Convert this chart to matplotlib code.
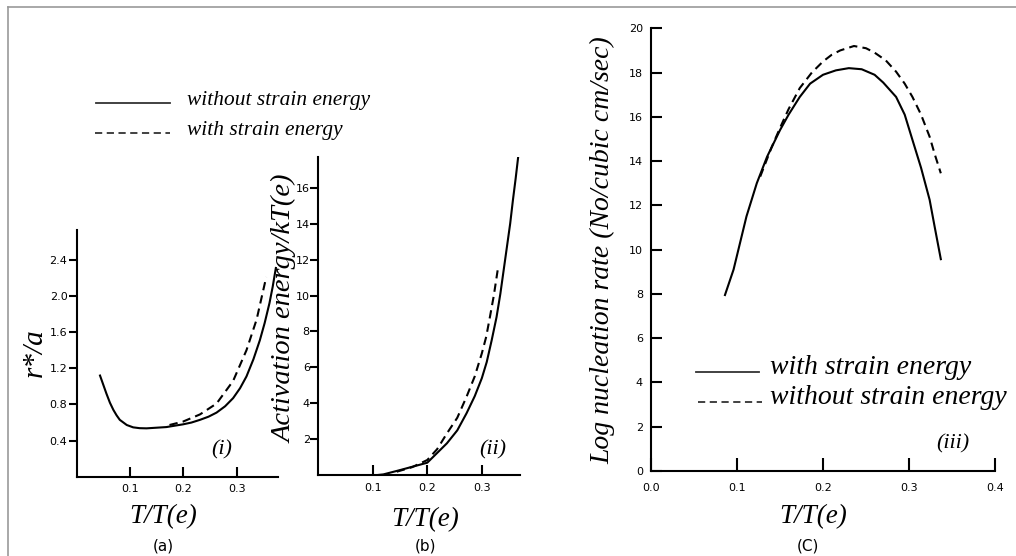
import matplotlib
matplotlib.use("Agg")
import matplotlib.pyplot as plt
from matplotlib.lines import Line2D

# #####################################################################
# #####################DATA############################################
# #####################################################################

# (a) critical radius r*/a
a_x_without = [0.044, 0.056, 0.0625, 0.069, 0.075, 0.081, 0.094, 0.106, 0.118, 0.131, 0.168, 0.199, 0.215,
               0.231, 0.247, 0.262, 0.278, 0.293, 0.306, 0.318, 0.331, 0.343, 0.352, 0.361, 0.367, 0.373]
a_y_without = [1.12, 0.92, 0.82, 0.74, 0.68, 0.63, 0.573, 0.547, 0.538, 0.536, 0.55, 0.58, 0.60,
               0.63, 0.665, 0.71, 0.78, 0.87, 0.98, 1.11, 1.30, 1.51, 1.70, 1.92, 2.1, 2.31]
a_x_with = [0.174, 0.199, 0.231, 0.262, 0.293, 0.318, 0.337, 0.355]
a_y_with = [0.573, 0.61, 0.69, 0.81, 1.06, 1.40, 1.74, 2.21]

# (b) activation energy / kT(e)
b_x_without = [0.104, 0.1195, 0.150, 0.200, 0.236, 0.255, 0.272, 0.287, 0.300, 0.309, 0.318, 0.327,
               0.334, 0.346, 0.352, 0.357, 0.362, 0.367]
b_y_without = [0.0, 0.05, 0.29, 0.70, 1.78, 2.5, 3.45, 4.4, 5.4, 6.3, 7.5, 8.8,
               10.1, 12.7, 14.0, 15.3, 16.5, 17.8]
b_x_with = [0.144, 0.172, 0.200, 0.218, 0.236, 0.255, 0.272, 0.287, 0.300, 0.308, 0.315, 0.322, 0.329]
b_y_with = [0.20, 0.45, 0.85, 1.45, 2.33, 3.2, 4.37, 5.5, 6.78, 7.7, 8.83, 10.0, 11.4]

# (c) log nucleation rate
c_x_with = [0.086, 0.096, 0.111, 0.123, 0.135, 0.150, 0.160, 0.173, 0.185, 0.200, 0.215, 0.230, 0.245, 0.260,
            0.270, 0.285, 0.295, 0.304, 0.314, 0.324, 0.330, 0.337]
c_y_with = [7.95, 9.1, 11.5, 13.0, 14.2, 15.4, 16.1, 16.9, 17.5, 17.9, 18.1, 18.2, 18.15, 17.9,
            17.55, 16.9, 16.1, 14.96, 13.7, 12.25, 11.0, 9.57]
c_x_without = [0.127, 0.140, 0.150, 0.160, 0.173, 0.187, 0.200, 0.210, 0.220, 0.236, 0.250, 0.260,
               0.273, 0.285, 0.295, 0.304, 0.314, 0.324, 0.330, 0.337]
c_y_without = [13.3, 14.6, 15.5, 16.35, 17.3, 18.0, 18.5, 18.8, 19.0, 19.2, 19.1, 18.9,
               18.55, 18.04, 17.5, 16.9, 16.1, 15.1, 14.3, 13.45]

a_xticks = [0.1, 0.2, 0.3]
a_yticks = [0.4, 0.8, 1.2, 1.6, 2.0, 2.4]
b_xticks = [0.1, 0.2, 0.3]
b_yticks = [2, 4, 6, 8, 10, 12, 14, 16]
c_xticks = [0.0, 0.1, 0.2, 0.3, 0.4]
c_yticks = [0, 2, 4, 6, 8, 10, 12, 14, 16, 18, 20]

# #####################################################################
# #####################FIGURE##########################################
# #####################################################################

W, H = 1016, 556
fig = plt.figure(figsize=(W / 100, H / 100), dpi=100)
SERIF = "Liberation Serif"
SANS = "DejaVu Sans"


def px(x, y):
    # pixel position (from top-left) -> figure fraction
    return x / W, 1 - y / H


def box(x0, x1, ybot, ytop):
    return [x0 / W, 1 - ybot / H, (x1 - x0) / W, (ybot - ytop) / H]


def style_axes(ax, xdir, ydir, xlen, ylen, xpad, ypad):
    for s in ["top", "right"]:
        ax.spines[s].set_visible(False)
    for s in ["left", "bottom"]:
        ax.spines[s].set_linewidth(1.5)
    ax.tick_params(axis="x", direction=xdir, length=xlen, width=1.5, pad=xpad, labelsize=8)
    ax.tick_params(axis="y", direction=ydir, length=ylen, width=1.5, pad=ypad, labelsize=8)
    for lab in ax.get_xticklabels() + ax.get_yticklabels():
        lab.set_fontfamily(SANS)


dash = (0, (4, 2.5))

# ---------------- (a)
ax1 = fig.add_axes(box(76.5, 278, 476.8, 230))
ax1.plot(a_x_without, a_y_without, color="black", lw=1.5)
ax1.plot(a_x_with, a_y_with, color="black", lw=1.5, linestyle=dash)
ax1.set_xlim(0, 0.377)
ax1.set_ylim(0, 2.73)
ax1.set_xticks(a_xticks)
ax1.set_xticklabels(["%.1f" % v for v in a_xticks])
ax1.set_yticks(a_yticks)
ax1.set_yticklabels(["%.1f" % v for v in a_yticks])
style_axes(ax1, "in", "out", 7, 5.5, 5, 1)

# ---------------- (b)
ax2 = fig.add_axes(box(318.2, 520, 475.3, 156.7))
ax2.plot(b_x_without, b_y_without, color="black", lw=1.5)
ax2.plot(b_x_with, b_y_with, color="black", lw=1.5, linestyle=dash)
ax2.set_xlim(0, 0.37)
ax2.set_ylim(0, 17.72)
ax2.set_xticks(b_xticks)
ax2.set_xticklabels(["%.1f" % v for v in b_xticks])
ax2.set_yticks(b_yticks)
style_axes(ax2, "in", "out", 7, 5.5, 5.5, 0.5)

# ---------------- (c)
ax3 = fig.add_axes(box(651, 995, 471, 28.3))
ax3.plot(c_x_with, c_y_with, color="black", lw=1.5)
ax3.plot(c_x_without, c_y_without, color="black", lw=1.5, linestyle=dash)
ax3.set_xlim(0, 0.4)
ax3.set_ylim(0, 20)
ax3.set_xticks(c_xticks)
ax3.set_xticklabels(["%.1f" % v for v in c_xticks])
ax3.set_yticks(c_yticks)
style_axes(ax3, "in", "in", 9.4, 7.7, 8.6, 5.8)

# #####################################################################
# #####################TEXT############################################
# #####################################################################

ital = dict(family=SERIF, style="italic", color="black")

fig.text(*px(35, 353), "r*/a", fontsize=21, rotation=90, ha="center", va="center", **ital)
fig.text(*px(285, 309), "Activation energy/kT(e)", fontsize=20.5, rotation=90, ha="center", va="center", **ital)
fig.text(*px(603, 250), "Log nucleation rate (No/cubic cm/sec)", fontsize=20, rotation=90,
         ha="center", va="center", **ital)

fig.text(*px(163, 517), "T/T(e)", fontsize=19.5, ha="center", va="center", **ital)
fig.text(*px(425, 520), "T/T(e)", fontsize=19.5, ha="center", va="center", **ital)
fig.text(*px(813, 517), "T/T(e)", fontsize=19.5, ha="center", va="center", **ital)

fig.text(*px(163, 546), "(a)", fontsize=11, family=SANS, ha="center", va="center")
fig.text(*px(425, 546), "(b)", fontsize=11, family=SANS, ha="center", va="center")
fig.text(*px(808, 546), "(C)", fontsize=11, family=SANS, ha="center", va="center")

fig.text(*px(222, 450), "(i)", fontsize=16, ha="center", va="center", **ital)
fig.text(*px(493, 450), "(ii)", fontsize=16, ha="center", va="center", **ital)
fig.text(*px(953, 444), "(iii)", fontsize=16, ha="center", va="center", **ital)

# legends drawn by hand
fig.add_artist(Line2D([96 / W, 170 / W], [1 - 103 / H, 1 - 103 / H], color="#333333", lw=1.3,
                      transform=fig.transFigure))
fig.add_artist(Line2D([95 / W, 170 / W], [1 - 132.7 / H, 1 - 132.7 / H], color="#333333", lw=1.3,
                      linestyle=(0, (4, 2.5)), transform=fig.transFigure))
fig.text(*px(187, 101), "without strain energy", fontsize=15.4, ha="left", va="center", **ital)
fig.text(*px(187, 130), "with strain energy", fontsize=15.4, ha="left", va="center", **ital)

fig.add_artist(Line2D([696 / W, 759 / W], [1 - 371.7 / H, 1 - 371.7 / H], color="#333333", lw=1.3,
                      transform=fig.transFigure))
fig.add_artist(Line2D([698 / W, 762 / W], [1 - 401.7 / H, 1 - 401.7 / H], color="#333333", lw=1.3,
                      linestyle=(0, (4, 2.5)), transform=fig.transFigure))
fig.text(*px(770, 367), "with strain energy", fontsize=20, ha="left", va="center", **ital)
fig.text(*px(770, 398), "without strain energy", fontsize=20, ha="left", va="center", **ital)

# grey frame (top and left only)
fig.add_artist(Line2D([8 / W, 1], [1 - 7 / H, 1 - 7 / H], color="#999999", lw=1.2, transform=fig.transFigure))
fig.add_artist(Line2D([8 / W, 8 / W], [0, 1 - 7 / H], color="#999999", lw=1.2, transform=fig.transFigure))

fig.savefig("out.png", dpi=100)
